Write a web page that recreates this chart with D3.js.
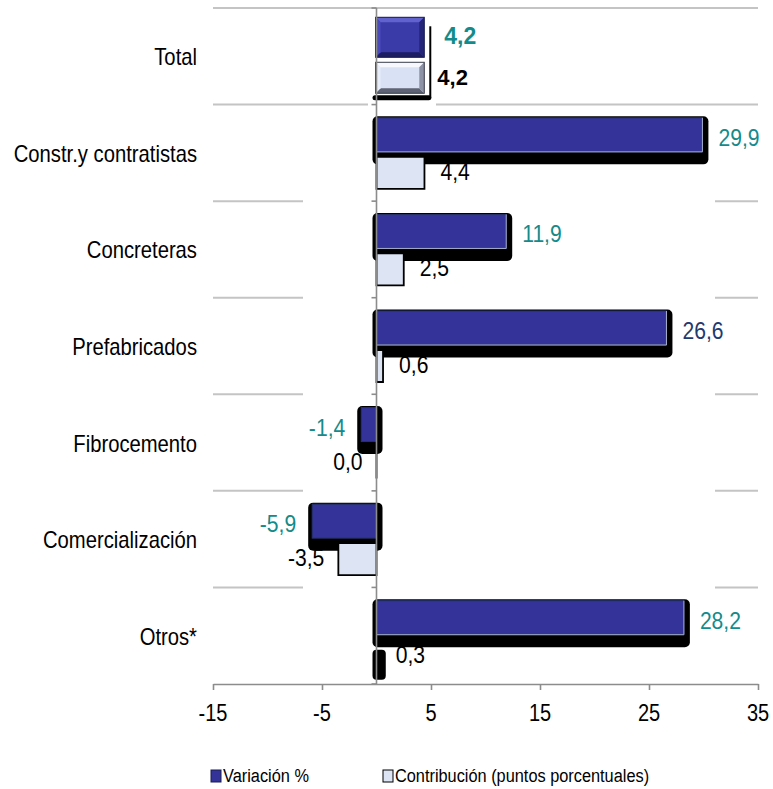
<!DOCTYPE html>
<html>
<head>
<meta charset="utf-8">
<script src="https://cdn.jsdelivr.net/npm/d3@7"></script>
<style>
html,body{margin:0;padding:0;background:#fff;}
svg{display:block;}
</style>
</head>
<body>
<div id="chart"></div>
<script>
// ---- data ----
const categories = ["Total", "Constr.y contratistas", "Concreteras", "Prefabricados", "Fibrocemento", "Comercialización", "Otros*"];
const variacion = [4.2, 29.9, 11.9, 26.6, -1.4, -5.9, 28.2];
const contribucion = [4.2, 4.4, 2.5, 0.6, 0.0, -3.5, 0.3];
const xTickValues = [-15, -5, 5, 15, 25, 35];
const seriesNames = ["Variación %", "Contribución (puntos porcentuales)"];

const W = 773, H = 789;
const FONT = "'Liberation Sans', Arial, Helvetica, sans-serif";
const svg = d3.select("#chart").append("svg").attr("width", W).attr("height", H);

const x = d3.scaleLinear().domain([-15, 35]).range([213, 758]);
const y = d3.scaleBand().domain(categories).range([8, 684]).paddingInner(0).paddingOuter(0);
const bw = y.bandwidth();
const cy = c => y(c) + bw / 2;
const fmt = v => v.toFixed(1).replace(".", ",");

function txt(g, px, py, s, o) {
  const t = g.append("text")
    .attr("transform", `translate(${px},${py}) scale(${o.sx || 1},1)`)
    .attr("text-anchor", o.anchor || "start")
    .attr("dominant-baseline", "central")
    .style("font-family", FONT)
    .style("font-size", (o.size || 20) + "px")
    .style("font-weight", o.weight || "normal")
    .attr("fill", o.fill || "#000")
    .text(s);
  return t;
}

// ---- gridlines ----
const grid = svg.append("g");
const bounds = categories.map(c => y(c)).concat([y.range()[1]]);
bounds.forEach((b, i) => {
  if (i === bounds.length - 1) return;
  if (i === 0) {
    grid.append("line").attr("x1", x(-15)).attr("x2", x(35)).attr("y1", b).attr("y2", b);
  } else if (i === 1) {
    grid.append("line").attr("x1", x(-15)).attr("x2", 368).attr("y1", b).attr("y2", b);
    grid.append("line").attr("x1", 436).attr("x2", x(35)).attr("y1", b).attr("y2", b);
  } else {
    grid.append("line").attr("x1", x(-15)).attr("x2", 303).attr("y1", b).attr("y2", b);
    grid.append("line").attr("x1", 715).attr("x2", x(35)).attr("y1", b).attr("y2", b);
  }
});
grid.selectAll("line").attr("stroke", "#c4c4c4").attr("stroke-width", 2);

// ---- category labels ----
const catG = svg.append("g");
categories.forEach(c => txt(catG, 197, cy(c) + 1, c, {anchor: "end", size: 23, sx: 0.88}));

// ---- contribution labels (drawn under var shadows) ----
const labG = svg.append("g");
categories.forEach((c, i) => {
  if (i === 0) return;
  const v = contribucion[i];
  const c0 = cy(c) + 19;
  if (v > 0) txt(labG, x(v) + 16, c0, fmt(v), {size: 24, sx: 0.88});
  else txt(labG, x(v) - 14, c0, fmt(v), {size: 24, sx: 0.88, anchor: "end"});
});

// ---- var shadows & bars ----
const barG = svg.append("g");
categories.forEach((c, i) => {
  if (i === 0) return;
  const v = variacion[i];
  const c0 = cy(c);
  const xa = Math.min(x(0), x(v)), xb = Math.max(x(0), x(v));
  barG.append("rect").attr("x", xa - 4).attr("y", c0 - 36.5)
    .attr("width", xb - xa + 10).attr("height", 48).attr("rx", 5).attr("fill", "#000");
  barG.append("rect").attr("x", xa).attr("y", c0 - 35).attr("width", xb - xa).attr("height", 34)
    .attr("fill", "#333399").attr("stroke", "#26326a").attr("stroke-width", 1);
  if (v > 0) {
    barG.append("path").attr("d", `M${xa},${c0 - 1} H${xb} V${c0 - 35}`)
      .attr("fill", "none").attr("stroke", "#a8b2cc").attr("stroke-width", 1);
  }
});

// ---- contribution bars ----
categories.forEach((c, i) => {
  if (i === 0) return;
  const v = contribucion[i];
  const c0 = cy(c);
  const xa = Math.min(x(0), x(v)), xb = Math.max(x(0), x(v));
  if (i === categories.length - 1) {
    barG.append("rect").attr("x", xa - 4).attr("y", c0 + 14).attr("width", xb - xa + 10)
      .attr("height", 30).attr("rx", 4).attr("fill", "#000");
    return;
  }
  barG.append("path").attr("d", `M${xa},${c0 + 4} H${xb} V${c0 + 36} H${xa} Z`)
    .attr("fill", "#dde4f3").attr("stroke", "#000").attr("stroke-width", 1.8);
});

// ---- Total row (beveled) ----
function bevel(g, x0, y0, x1, y1, col) {
  const b = 5;
  g.append("rect").attr("x", x0).attr("y", y0).attr("width", x1 - x0).attr("height", y1 - y0).attr("fill", col.center);
  g.append("path").attr("d", `M${x0},${y0} H${x1} L${x1 - b},${y0 + b} H${x0 + b} Z`).attr("fill", col.top);
  g.append("path").attr("d", `M${x0},${y1} H${x1} L${x1 - b},${y1 - b} H${x0 + b} Z`).attr("fill", col.bottom);
  g.append("path").attr("d", `M${x0},${y0} L${x0 + b},${y0 + b} V${y1 - b} L${x0},${y1} Z`).attr("fill", col.left);
  g.append("path").attr("d", `M${x1},${y0} L${x1 - b},${y0 + b} V${y1 - b} L${x1},${y1} Z`).attr("fill", col.right);
  g.append("rect").attr("x", x0).attr("y", y0).attr("width", x1 - x0).attr("height", y1 - y0)
    .attr("fill", "none").attr("stroke", col.stroke).attr("stroke-width", 1);
}
{
  const c = categories[0], c0 = cy(c);
  const tg = svg.append("g");
  const xv = x(variacion[0]), xc = x(contribucion[0]);
  // shadow bracket
  tg.append("line").attr("x1", Math.max(xv, xc) + 8).attr("x2", Math.max(xv, xc) + 8)
    .attr("y1", c0 - 30).attr("y2", c0 + 42).attr("stroke", "#000").attr("stroke-width", 2);
  tg.append("rect").attr("x", x(0) - 4).attr("y", c0 + 39).attr("width", Math.max(xv, xc) - x(0) + 13)
    .attr("height", 5).attr("rx", 2.5).attr("fill", "#000");
  bevel(tg, x(0) - 1, c0 - 39, xv + 2, c0 + 1,
    {center: "#3a3aa8", top: "#6262cf", left: "#4a4abb", right: "#252578", bottom: "#1d1d62", stroke: "#1a1f52"});
  bevel(tg, x(0) - 1, c0 + 6, xc + 2, c0 + 37,
    {center: "#d9e2f4", top: "#f6f8fd", left: "#e8eef9", right: "#8d92a4", bottom: "#5f6375", stroke: "#3a3d4a"});
  txt(tg, xv + 22, c0 - 20, fmt(variacion[0]), {size: 23, weight: "bold", fill: "#138b8b"});
  txt(tg, xc + 15, c0 + 21, fmt(contribucion[0]), {size: 22, weight: "bold", fill: "#000"});
}

// ---- var labels ----
const vlab = svg.append("g");
categories.forEach((c, i) => {
  if (i === 0) return;
  const v = variacion[i];
  const c0 = cy(c) - 15;
  const col = i === 3 ? "#1f3a6e" : "#138b8b";
  if (v > 0) txt(vlab, x(v) + 16, c0, fmt(v), {size: 24, sx: 0.88, fill: col});
  else txt(vlab, x(v) - 16, c0, fmt(v), {size: 24, sx: 0.88, fill: col, anchor: "end"});
});

// ---- axes ----
const zeroG = svg.append("g");
zeroG.append("line").attr("x1", x(0)).attr("x2", x(0)).attr("y1", y.range()[0]).attr("y2", y.range()[1])
  .attr("stroke", "#8c8c8c").attr("stroke-width", 1.6);
bounds.forEach(b => zeroG.append("line").attr("x1", x(0) - 5).attr("x2", x(0)).attr("y1", b).attr("y2", b)
  .attr("stroke", "#8c8c8c").attr("stroke-width", 1.6));

const xAxis = d3.axisBottom(x).tickValues(xTickValues).tickFormat(d => String(d)).tickSize(6).tickSizeOuter(0);
const ax = svg.append("g").attr("transform", `translate(0,${y.range()[1]})`).call(xAxis);
ax.select(".domain").attr("stroke", "#8c8c8c").attr("stroke-width", 1.6);
ax.selectAll(".tick line").attr("stroke", "#8c8c8c").attr("stroke-width", 1.6);
ax.selectAll(".tick text").remove();
xTickValues.forEach(t => txt(ax, x(t), 29, String(t), {anchor: "middle", size: 23, sx: 0.87}));

// ---- legend ----
const lg = svg.append("g");
const legY = 776;
lg.append("rect").attr("x", 211).attr("y", legY - 6).attr("width", 10).attr("height", 12)
  .attr("fill", "#333399").attr("stroke", "#1a1f52").attr("stroke-width", 1);
txt(lg, 223, legY, seriesNames[0], {size: 19, sx: 0.86});
lg.append("rect").attr("x", 383).attr("y", legY - 6).attr("width", 10).attr("height", 12)
  .attr("fill", "#dde4f3").attr("stroke", "#000").attr("stroke-width", 1);
txt(lg, 395, legY, seriesNames[1], {size: 19, sx: 0.86});
</script>
</body>
</html>
